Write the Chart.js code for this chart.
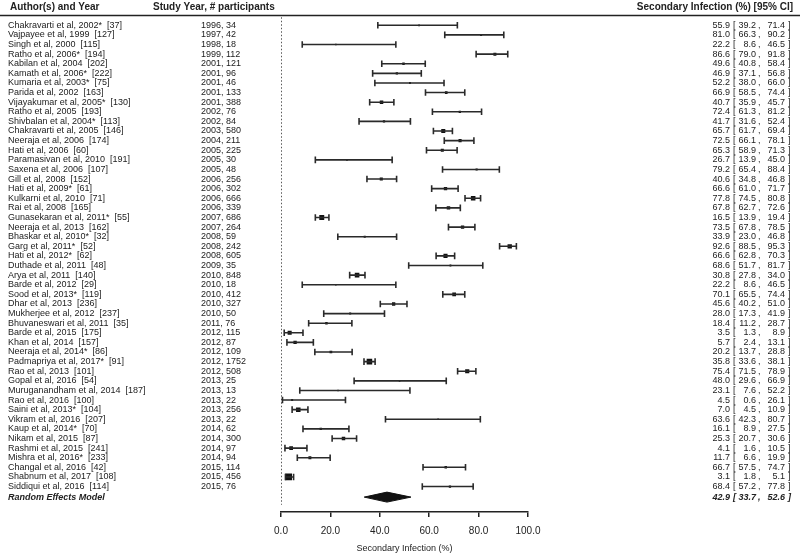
<!DOCTYPE html>
<html>
<head>
<meta charset="utf-8">
<script src="https://cdn.jsdelivr.net/npm/chart.js@4.4.1/dist/chart.umd.min.js"></script>
<style>
  html, body { margin: 0; padding: 0; background: #fff; }
</style>
</head>
<body>
<canvas id="forest" width="800" height="556"></canvas>
<script>
var authors = [
  "Chakravarti et al, 2002*  [37]", "Vajpayee et al, 1999  [127]", "Singh et al, 2000  [115]",
  "Ratho et al, 2006*  [194]", "Kabilan et al, 2004  [202]", "Kamath et al, 2006*  [222]",
  "Kumaria et al, 2003*  [75]", "Parida et al, 2002  [163]", "Vijayakumar et al, 2005*  [130]",
  "Ratho et al, 2005  [193]", "Shivbalan et al, 2004*  [113]", "Chakravarti et al, 2005  [146]",
  "Neeraja et al, 2006  [174]", "Hati et al, 2006  [60]", "Paramasivan et al, 2010  [191]",
  "Saxena et al, 2006  [107]", "Gill et al, 2008  [152]", "Hati et al, 2009*  [61]",
  "Kulkarni et al, 2010  [71]", "Rai et al, 2008  [165]", "Gunasekaran et al, 2011*  [55]",
  "Neeraja et al, 2013  [162]", "Bhaskar et al, 2010*  [32]", "Garg et al, 2011*  [52]",
  "Hati et al, 2012*  [62]", "Duthade et al, 2011  [48]", "Arya et al, 2011  [140]",
  "Barde et al, 2012  [29]", "Sood et al, 2013*  [119]", "Dhar et al, 2013  [236]",
  "Mukherjee et al, 2012  [237]", "Bhuvaneswari et al, 2011  [35]", "Barde et al, 2015  [175]",
  "Khan et al, 2014  [157]", "Neeraja et al, 2014*  [86]", "Padmapriya et al, 2017*  [91]",
  "Rao et al, 2013  [101]", "Gopal et al, 2016  [54]", "Muruganandham et al, 2014  [187]",
  "Rao et al, 2016  [100]", "Saini et al, 2013*  [104]", "Vikram et al, 2016  [207]",
  "Kaup et al, 2014*  [70]", "Nikam et al, 2015  [87]", "Rashmi et al, 2015  [241]",
  "Mishra et al, 2016*  [233]", "Changal et al, 2016  [42]", "Shabnum et al, 2017  [108]",
  "Siddiqui et al, 2016  [114]"
];
var studyInfo = [
  "1996, 34", "1997, 42", "1998, 18", "1999, 112", "2001, 121", "2001, 96", "2001, 46",
  "2001, 133", "2001, 388", "2002, 76", "2002, 84", "2003, 580", "2004, 211", "2005, 225",
  "2005, 30", "2005, 48", "2006, 256", "2006, 302", "2006, 666", "2006, 339", "2007, 686",
  "2007, 264", "2008, 59", "2008, 242", "2008, 605", "2009, 35", "2010, 848", "2010, 18",
  "2010, 412", "2010, 327", "2010, 50", "2011, 76", "2012, 115", "2012, 87", "2012, 109",
  "2012, 1752", "2012, 508", "2013, 25", "2013, 13", "2013, 22", "2013, 256", "2013, 22",
  "2014, 62", "2014, 300", "2014, 97", "2014, 94", "2015, 114", "2015, 456", "2015, 76"
];
var estimate = [
  55.9, 81.0, 22.2, 86.6, 49.6, 46.9, 52.2, 66.9, 40.7, 72.4, 41.7, 65.7, 72.5, 65.3,
  26.7, 79.2, 40.6, 66.6, 77.8, 67.8, 16.5, 73.5, 33.9, 92.6, 66.6, 68.6, 30.8, 22.2,
  70.1, 45.6, 28.0, 18.4, 3.5, 5.7, 20.2, 35.8, 75.4, 48.0, 23.1, 4.5, 7.0, 63.6,
  16.1, 25.3, 4.1, 11.7, 66.7, 3.1, 68.4
];
var lower = [
  39.2, 66.3, 8.6, 79.0, 40.8, 37.1, 38.0, 58.5, 35.9, 61.3, 31.6, 61.7, 66.1, 58.9,
  13.9, 65.4, 34.8, 61.0, 74.5, 62.7, 13.9, 67.8, 23.0, 88.5, 62.8, 51.7, 27.8, 8.6,
  65.5, 40.2, 17.3, 11.2, 1.3, 2.4, 13.7, 33.6, 71.5, 29.6, 7.6, 0.6, 4.5, 42.3,
  8.9, 20.7, 1.6, 6.6, 57.5, 1.8, 57.2
];
var upper = [
  71.4, 90.2, 46.5, 91.8, 58.4, 56.8, 66.0, 74.4, 45.7, 81.2, 52.4, 69.4, 78.1, 71.3,
  45.0, 88.4, 46.8, 71.7, 80.8, 72.6, 19.4, 78.5, 46.8, 95.3, 70.3, 81.7, 34.0, 46.5,
  74.4, 51.0, 41.9, 28.7, 8.9, 13.1, 28.8, 38.1, 78.9, 66.9, 52.2, 26.1, 10.9, 80.7,
  27.5, 30.6, 10.5, 19.9, 74.7, 5.1, 77.8
];
var pooledLabel = "Random Effects Model";
var pooled = [42.9, 33.7, 52.6];
var xTicks = [0, 20, 40, 60, 80, 100];

var FONT = '"Liberation Sans", Arial, sans-serif';
var INK = "#222";
var pooledRow = 50.1;

// box size shrinks with CI width (precision weight)
function boxRadius(i) {
  var side = 13.5 / Math.pow(upper[i] - lower[i], 0.59);
  return side / Math.SQRT2;
}

var ciSegments = [];
var capPoints = [];
var boxPoints = [];
estimate.forEach(function (e, i) {
  var row = i + 1;
  ciSegments.push({ x: lower[i], y: row }, { x: upper[i], y: row }, { x: null, y: null });
  capPoints.push({ x: lower[i], y: row }, { x: upper[i], y: row });
  boxPoints.push({ x: e, y: row });
});

var diamond = [
  { x: pooled[1], y: pooledRow },
  { x: pooled[0], y: pooledRow - 0.52 },
  { x: pooled[2], y: pooledRow },
  { x: pooled[0], y: pooledRow + 0.52 },
  { x: pooled[1], y: pooledRow }
];

function ciText(ctx, y, est, lo, hi) {
  ctx.textAlign = "right";
  ctx.fillText(est.toFixed(1), 730, y);
  ctx.fillText(lo.toFixed(1), 756, y);
  ctx.fillText(hi.toFixed(1), 785, y);
  ctx.textAlign = "left";
  ctx.fillText("[", 733, y);
  ctx.fillText(",", 758, y);
  ctx.fillText("]", 788, y);
}

var textColumns = {
  id: "textColumns",
  afterDraw: function (chart) {
    var ctx = chart.ctx;
    var yScale = chart.scales.y;
    ctx.save();
    ctx.fillStyle = INK;
    ctx.textBaseline = "middle";

    ctx.font = "bold 10px " + FONT;
    ctx.textAlign = "left";
    ctx.fillText("Author(s) and Year", 10, 7);
    ctx.fillText("Study Year, # participants", 153, 7);
    ctx.textAlign = "right";
    ctx.fillText("Secondary Infection (%) [95% CI]", 793, 7);

    ctx.strokeStyle = "#222";
    ctx.lineWidth = 1.6;
    ctx.beginPath();
    ctx.moveTo(0, 15.5);
    ctx.lineTo(800, 15.5);
    ctx.stroke();

    ctx.font = "9px " + FONT;
    authors.forEach(function (name, i) {
      var y = yScale.getPixelForValue(i + 1);
      ctx.textAlign = "left";
      ctx.fillText(name, 8, y);
      ctx.fillText(studyInfo[i], 201, y);
      ciText(ctx, y, estimate[i], lower[i], upper[i]);
    });

    var py = yScale.getPixelForValue(pooledRow);
    ctx.font = "italic bold 9px " + FONT;
    ctx.textAlign = "left";
    ctx.fillText(pooledLabel, 8, py);
    ciText(ctx, py, pooled[0], pooled[1], pooled[2]);
    ctx.restore();
  }
};

new Chart(document.getElementById("forest"), {
  type: "scatter",
  data: {
    datasets: [
      {
        data: [{ x: 0, y: 0.15 }, { x: 0, y: 50.9 }],
        showLine: true,
        borderColor: "#222",
        borderWidth: 1.5,
        borderDash: [1.5, 2],
        pointRadius: 0
      },
      {
        data: ciSegments,
        showLine: true,
        spanGaps: false,
        borderColor: "#2a2a2a",
        borderWidth: 1.6,
        pointRadius: 0
      },
      {
        data: capPoints,
        pointStyle: "line",
        pointRotation: 90,
        pointRadius: 3.3,
        pointBorderWidth: 1.6,
        pointBorderColor: "#2a2a2a"
      },
      {
        data: boxPoints,
        pointStyle: "rect",
        pointRadius: estimate.map(function (e, i) { return boxRadius(i); }),
        pointBackgroundColor: "#111",
        pointBorderWidth: 0
      },
      {
        data: diamond,
        showLine: true,
        fill: "shape",
        tension: 0,
        backgroundColor: "#111",
        borderColor: "#111",
        borderWidth: 1,
        pointRadius: 0
      }
    ]
  },
  options: {
    responsive: false,
    animation: false,
    layout: { padding: { left: 281, right: 272, top: 15.7, bottom: 0 } },
    plugins: {
      legend: { display: false },
      tooltip: { enabled: false }
    },
    scales: {
      x: {
        type: "linear",
        min: 0,
        max: 100,
        afterFit: function (s) { s.height = 44; },
        afterBuildTicks: function (s) {
          s.ticks = xTicks.map(function (v) { return { value: v }; });
        },
        grid: {
          display: true,
          drawOnChartArea: false,
          drawTicks: true,
          tickLength: 5,
          color: "#222",
          lineWidth: 1.5
        },
        border: { display: true, color: "#222", width: 1.6 },
        ticks: {
          color: INK,
          padding: 8,
          font: { family: FONT, size: 10 },
          callback: function (v) { return Number(v).toFixed(1); }
        },
        title: {
          display: true,
          text: "Secondary Infection (%)",
          color: INK,
          font: { family: FONT, size: 9 },
          padding: { top: 0, bottom: 2 }
        }
      },
      y: {
        type: "linear",
        display: false,
        reverse: true,
        min: 0,
        max: 51.65
      }
    }
  },
  plugins: [textColumns]
});
</script>
</body>
</html>
